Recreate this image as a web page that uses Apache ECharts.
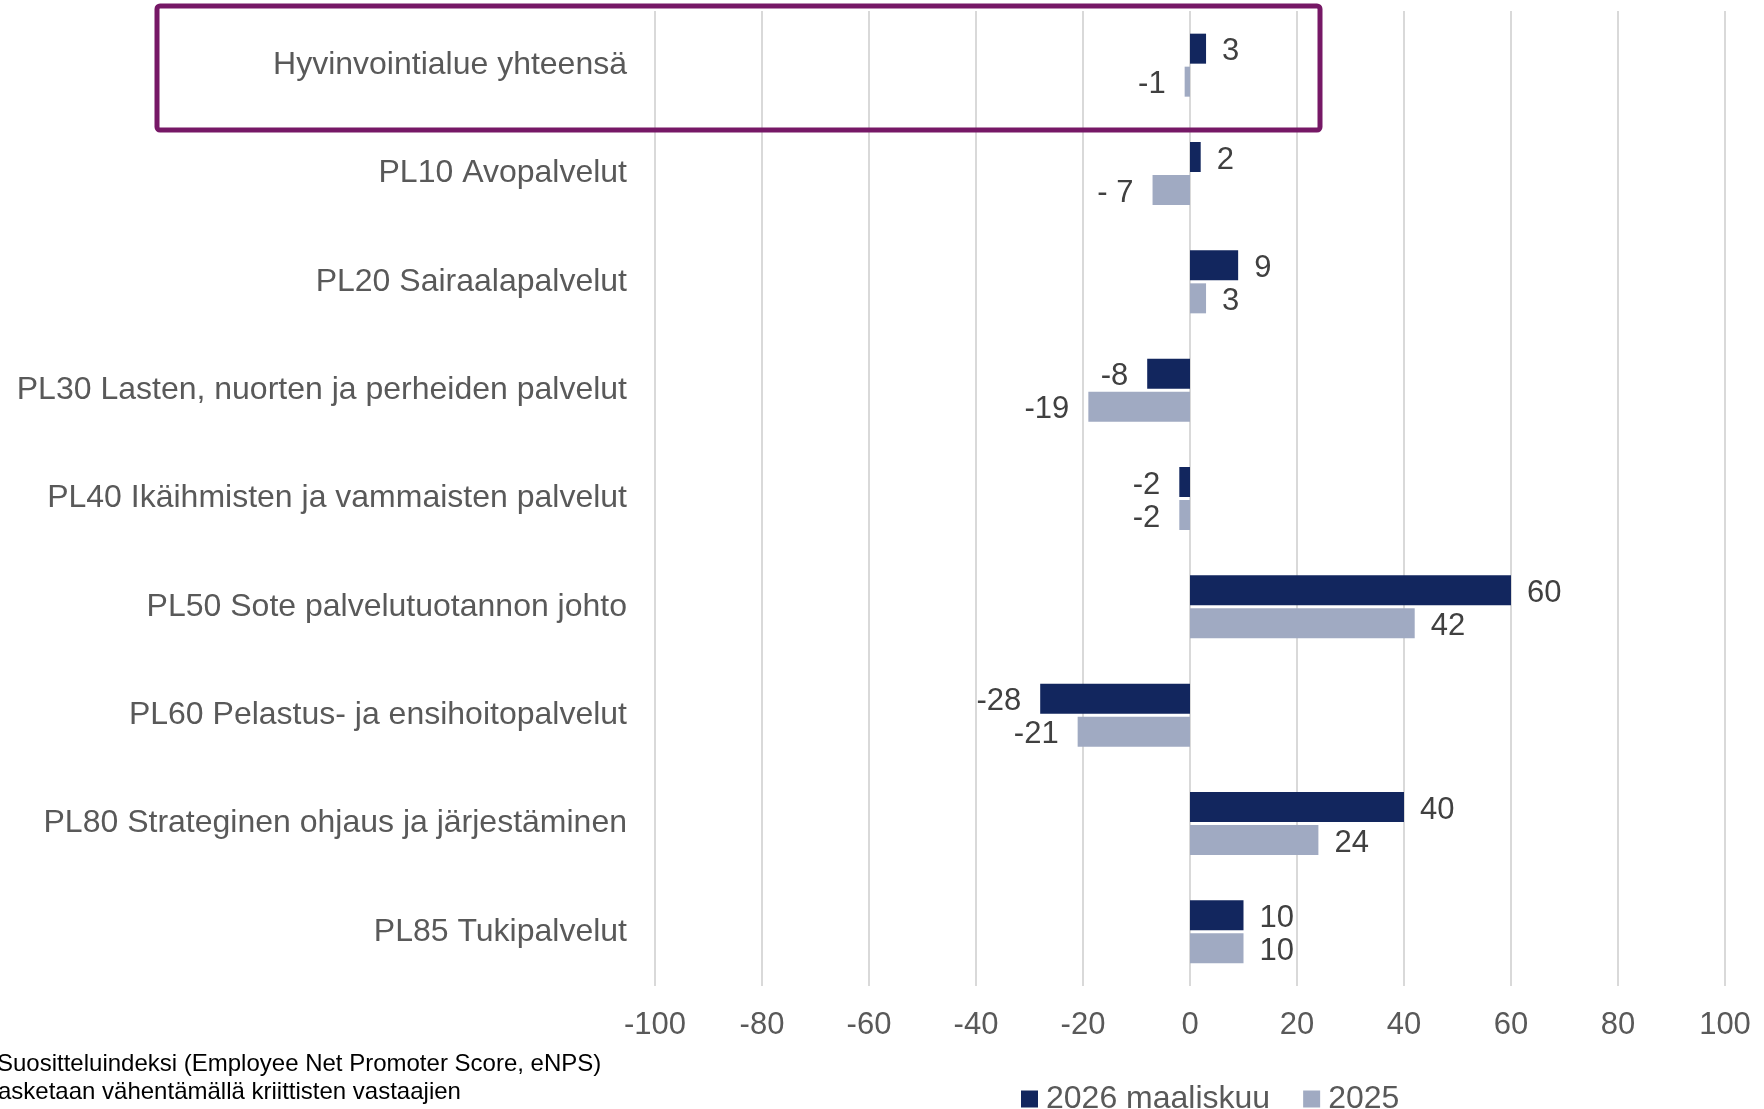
<!DOCTYPE html>
<html>
<head>
<meta charset="utf-8">
<script src="https://cdn.jsdelivr.net/npm/echarts@6/dist/echarts.min.js"></script>
<style>
  html, body { margin: 0; padding: 0; background: #fff; }
  #chart { width: 1764px; height: 1109px; }
</style>
</head>
<body>
<div id="chart"></div>
<script>
// yksiköt ylhäältä alas
const categories = [
  'Hyvinvointialue yhteensä',
  'PL10 Avopalvelut',
  'PL20 Sairaalapalvelut',
  'PL30 Lasten, nuorten ja perheiden palvelut',
  'PL40 Ikäihmisten ja vammaisten palvelut',
  'PL50 Sote palvelutuotannon johto',
  'PL60 Pelastus- ja ensihoitopalvelut',
  'PL80 Strateginen ohjaus ja järjestäminen',
  'PL85 Tukipalvelut'
];
const seriesNames = ['2026 maaliskuu', '2025'];
const values2026 = [3, 2, 9, -8, -2, 60, -28, 40, 10];
const values2025 = [-1, -7, 3, -19, -2, 42, -21, 24, 10];
const labels2025 = ['-1', '- 7', '3', '-19', '-2', '42', '-21', '24', '10'];
const footnote = [
  'Suositteluindeksi (Employee Net Promoter Score, eNPS)',
  'asketaan vähentämällä kriittisten vastaajien'
];

const font = 'Liberation Sans, Arial, sans-serif';
const chart = echarts.init(document.getElementById('chart'));

const dataLabel = (fmt) => ({
  show: true,
  fontFamily: font,
  fontSize: 31,
  color: '#404040',
  distance: 16,
  offset: [0, 3],
  formatter: fmt,
  position: 'right'
});

const mk = (vals) => vals.map(v => ({
  value: v,
  label: { position: v < 0 ? 'left' : 'right', distance: v < 0 ? 19 : 16 }
}));

const option = {
  animation: false,
  grid: { left: 655, right: 39, top: 11, bottom: 123 },
  legend: {
    data: seriesNames,
    left: 1016,
    top: 1078,
    itemWidth: 17,
    itemHeight: 17,
    itemGap: 33,
    icon: 'rect',
    textStyle: { fontFamily: font, fontSize: 32, color: '#595959', padding: [0, 0, 0, 3] }
  },
  xAxis: {
    type: 'value',
    min: -100,
    max: 100,
    interval: 20,
    axisLine: { show: false },
    axisTick: { show: false },
    splitLine: { lineStyle: { color: '#d9d9d9', width: 2 } },
    axisLabel: { fontFamily: font, fontSize: 31, color: '#595959', margin: 24 }
  },
  yAxis: {
    type: 'category',
    data: categories,
    inverse: true,
    axisLine: { show: false },
    axisTick: { show: false },
    axisLabel: { fontFamily: font, fontSize: 32, color: '#595959', margin: 28 }
  },
  series: [
    {
      name: seriesNames[0],
      type: 'bar',
      barWidth: 30,
      barGap: '10%',
      itemStyle: { color: '#12265e' },
      label: dataLabel(p => p.value),
      data: mk(values2026)
    },
    {
      name: seriesNames[1],
      type: 'bar',
      barWidth: 30,
      itemStyle: { color: '#a0aac2' },
      label: dataLabel(p => labels2025[p.dataIndex]),
      data: mk(values2025)
    }
  ],
  graphic: [
    {
      type: 'rect',
      shape: { x: 157, y: 6, width: 1163, height: 124, r: 3 },
      style: { fill: 'none', stroke: '#761866', lineWidth: 5 },
      z: 10
    },
    {
      type: 'text',
      left: -3,
      top: 1052,
      style: { text: footnote[0], fontFamily: font, fontSize: 24, fill: '#000' }
    },
    {
      type: 'text',
      left: -2,
      top: 1080,
      style: { text: footnote[1], fontFamily: font, fontSize: 24, fill: '#000' }
    }
  ]
};

chart.setOption(option);
</script>
</body>
</html>
